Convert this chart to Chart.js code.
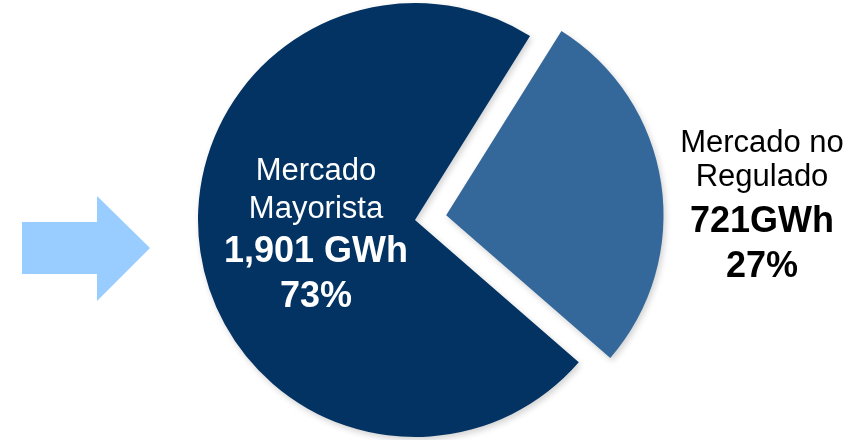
<!DOCTYPE html>
<html>
<head>
<meta charset="utf-8">
<script src="https://cdn.jsdelivr.net/npm/chart.js@4.4.1/dist/chart.umd.min.js"></script>
<style>
  html, body { margin: 0; padding: 0; background: #ffffff; }
  #wrap { position: relative; width: 867px; height: 440px; }
</style>
</head>
<body>
<div id="wrap"><canvas id="c" width="867" height="440"></canvas></div>
<script>
const categories = ["Mercado Mayorista", "Mercado no Regulado"];
const values = [1901, 721];           // GWh
const valueLabels = ["1,901 GWh", "721GWh"];
const percentLabels = ["73%", "27%"];
const nameLines = [["Mercado", "Mayorista"], ["Mercado no", "Regulado"]];
const colors = ["#033363", "#35689A"];

const FONT = "'Liberation Sans', Arial, Helvetica, sans-serif";

const shadowPlugin = {
  id: 'shadow',
  beforeDatasetsDraw(chart) {
    const ctx = chart.ctx;
    ctx.save();
    ctx.shadowColor = 'rgba(0,0,0,0.18)';
    ctx.shadowBlur = 6;
    ctx.shadowOffsetX = 2;
    ctx.shadowOffsetY = 3;
  },
  afterDatasetsDraw(chart) {
    chart.ctx.restore();
  }
};

const decoPlugin = {
  id: 'deco',
  afterDraw(chart) {
    const ctx = chart.ctx;
    const arc = chart.getDatasetMeta(0).data[0];
    const cx = arc.x, cy = arc.y;

    // arrow on the left
    ctx.save();
    ctx.fillStyle = '#99CCFF';
    ctx.beginPath();
    ctx.moveTo(cx - 393, cy + 2);
    ctx.lineTo(cx - 318, cy + 2);
    ctx.lineTo(cx - 318, cy - 24);
    ctx.lineTo(cx - 265, cy + 28);
    ctx.lineTo(cx - 318, cy + 81);
    ctx.lineTo(cx - 318, cy + 54);
    ctx.lineTo(cx - 393, cy + 54);
    ctx.closePath();
    ctx.fill();
    ctx.restore();

    ctx.save();
    ctx.textAlign = 'center';
    ctx.textBaseline = 'alphabetic';

    // label inside dark slice
    let x = cx - 99;
    ctx.fillStyle = '#ffffff';
    ctx.font = '31px ' + FONT;
    ctx.fillText(nameLines[0][0], x, cy - 40);
    ctx.fillText(nameLines[0][1], x, cy - 2);
    ctx.font = 'bold 36px ' + FONT;
    ctx.fillText(valueLabels[0], x, cy + 42);
    ctx.fillText(percentLabels[0], x, cy + 87);

    // label outside light slice
    x = cx + 347;
    ctx.fillStyle = '#000000';
    ctx.font = '31px ' + FONT;
    ctx.fillText(nameLines[1][0], x, cy - 68);
    ctx.fillText(nameLines[1][1], x, cy - 34);
    ctx.font = 'bold 36px ' + FONT;
    ctx.fillText(valueLabels[1], x, cy + 12);
    ctx.fillText(percentLabels[1], x, cy + 57);
    ctx.restore();
  }
};

new Chart(document.getElementById('c'), {
  type: 'pie',
  data: {
    labels: categories,
    datasets: [{
      data: values,
      backgroundColor: colors,
      borderWidth: 0,
      offset: [0, 126]
    }]
  },
  options: {
    responsive: false,
    animation: false,
    rotation: 131,
    radius: 217,
    layout: { padding: { left: 0, right: 37, top: 0, bottom: 0 } },
    plugins: {
      legend: { display: false },
      tooltip: { enabled: false }
    }
  },
  plugins: [shadowPlugin, decoPlugin]
});
</script>
</body>
</html>
